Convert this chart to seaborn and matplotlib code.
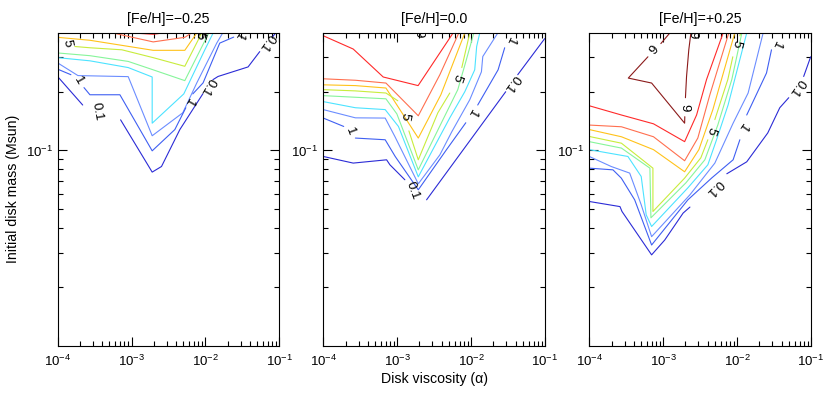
"""
Disk mass vs viscosity contours for three metallicities
"""
import matplotlib
matplotlib.use('Agg')
import matplotlib.pyplot as plt
import matplotlib.ticker as mticker
import seaborn as sns

# contour levels and colours
levels = [0.1, 1, 2, 3, 4, 5, 6, 7, 8, 9]
level_colors = ['#2b2bd6', '#3f5ff2', '#6b8dff', '#4ce3ff', '#86f59a',
                '#c8ec3c', '#ffc21a', '#ff6f4f', '#ff2a2a', '#8b1a1a']
color_of = dict(zip(levels, level_colors))

titles = ['[Fe/H]=\u22120.25', '[Fe/H]=0.0', '[Fe/H]=+0.25']

# contour vertices: level -> list of (alpha, Mdisk) segments
feh_m025 = {
    8: [([1.04e-3, 1.96e-3, 2.67e-3], [0.40, 0.394, 0.40])],
    7: [([5.6e-4, 1.96e-3, 5.25e-3, 6.47e-3], [0.40, 0.360, 0.380, 0.40])],
    6: [([1e-4, 2.73e-4, 1.96e-3, 5.25e-3, 7.63e-3], [0.380, 0.367, 0.326, 0.326, 0.40])],
    5: [([1.71e-4, 2.73e-4, 7.39e-4, 1.96e-3, 5.25e-3, 8.91e-3],
         [0.341, 0.336, 0.328, 0.299, 0.270, 0.40])],
    4: [([1e-4, 2.73e-4, 9.0e-4, 1.96e-3, 5.25e-3, 1.11e-2],
         [0.316, 0.306, 0.286, 0.259, 0.228, 0.40])],
    3: [([1e-4, 2.73e-4, 9.0e-4, 1.9e-3, 1.9e-3, 5.09e-3, 9.8e-3, 1.27e-2],
         [0.299, 0.288, 0.266, 0.238, 0.138, 0.195, 0.328, 0.40])],
    2: [([1e-4, 1.88e-4, 9.0e-4, 1.9e-3, 4.93e-3, 7.63e-3, 1.42e-2, 1.71e-2],
         [0.281, 0.242, 0.239, 0.119, 0.156, 0.222, 0.355, 0.40])],
    1: [([1e-4, 1.51e-4], [0.261, 0.2445]),
        ([2.27e-4, 2.73e-4, 6.95e-4, 1.9e-3, 3.85e-3, 5.42e-3],
         [0.21, 0.193, 0.193, 0.0996, 0.128, 0.1656]),
        ([6.74e-3, 9.28e-3, 1.56e-2, 2.41e-2], [0.195, 0.222, 0.355, 0.381])],
    0.1: [([1e-4, 2.18e-4], [0.239, 0.171]),
          ([7.1e-4, 1.9e-3, 2.54e-3, 4.5e-3, 9.2e-3], [0.1436, 0.0775, 0.0828, 0.128, 0.195]),
          ([1.26e-2, 1.48e-2, 3.77e-2, 5.42e-2], [0.2305, 0.2395, 0.268, 0.321]),
          ([8.12e-2, 8.91e-2], [0.383, 0.40])],
}
feh_m025_labels = [('5', 1.32e-4, 0.355, -80), ('1', 1.88e-4, 0.228, -60),
                   ('0.1', 3.4e-4, 0.158, -80), ('1', 5.95e-3, 0.178, -120),
                   ('0.1', 1.07e-2, 0.212, -120), ('0.1', 6.74e-2, 0.357, -125),
                   ('1', 2.82e-2, 0.387, -120), ('5', 8.4e-3, 0.392, -100)]

feh_000 = {
    8: [([1e-4, 2.54e-4, 6.47e-4, 1.92e-3, 5.71e-3], [0.387, 0.331, 0.238, 0.215, 0.40])],
    7: [([1e-4, 2.72e-4, 7.04e-4, 1.93e-3, 3.78e-3, 6.82e-3],
         [0.233, 0.229, 0.2216, 0.1506, 0.2445, 0.40])],
    6: [([1e-4, 2.72e-4, 7.04e-4, 1.93e-3, 3.9e-3, 8.22e-3],
         [0.217, 0.215, 0.209, 0.1158, 0.193, 0.40])],
    5: [([1e-4, 2.72e-4, 7.04e-4, 1.02e-3], [0.205, 0.202, 0.197, 0.1798]),
        ([1.44e-3, 1.93e-3, 3.55e-3, 5.15e-3], [0.126, 0.0896, 0.156, 0.197]),
        ([7.49e-3, 9.6e-3], [0.266, 0.40])],
    4: [([1e-4, 2.72e-4, 7.04e-4, 9.9e-4, 1.93e-3, 4.02e-3, 6.61e-3, 8.48e-3, 1.09e-2],
         [0.191, 0.1874, 0.184, 0.154, 0.0796, 0.140, 0.205, 0.285, 0.40])],
    3: [([1e-4, 2.72e-4, 6.88e-4, 1.04e-3, 1.93e-3, 5.15e-3, 8.22e-3, 1.12e-2, 1.19e-2, 1.31e-2],
         [0.178, 0.1656, 0.162, 0.1328, 0.0733, 0.147, 0.2, 0.259, 0.341, 0.40])],
    2: [([1e-4, 2.72e-4, 6.88e-4, 9.3e-4, 1.93e-3, 3.78e-3, 5.48e-3, 9.6e-3, 1.38e-2, 1.44e-2, 2.3e-2],
         [0.162, 0.147, 0.1466, 0.118, 0.0675, 0.095, 0.1247, 0.182, 0.253, 0.303, 0.40])],
    1: [([1e-4, 1.89e-4], [0.1466, 0.1328]),
        ([2.72e-4, 6.88e-4, 9.4e-4, 1.93e-3, 4.65e-3, 8.48e-3],
         [0.1158, 0.1135, 0.0932, 0.0629, 0.101, 0.1387]),
        ([1.23e-2, 2.32e-2, 2.85e-2], [0.171, 0.259, 0.336])],
    0.1: [([1e-4, 2.54e-4, 7.19e-4, 7.97e-4, 1.27e-3], [0.0932, 0.0862, 0.0896, 0.0845, 0.0708]),
          ([2.5e-3, 2.94e-2], [0.0559, 0.2]),
          ([4.28e-2, 9.9e-2], [0.2445, 0.374])],
}
feh_000_labels = [('9', 1.92e-3, 0.395, -90), ('5', 1.27e-3, 0.1506, -100),
                  ('1', 2.3e-4, 0.1247, -70), ('1', 1.02e-2, 0.156, -120),
                  ('1', 3.33e-2, 0.365, -115), ('0.1', 3.52e-2, 0.2216, -126),
                  ('5', 6.41e-3, 0.236, -110), ('0.1', 1.63e-3, 0.0622, -70)]

feh_p025 = {
    9: [([1.23e-3, 9.3e-4], [0.40, 0.353]),
        ([6.21e-4, 3.37e-4, 6.97e-4, 1.95e-3, 1.96e-3], [0.302, 0.235, 0.2216, 0.138, 0.149]),
        ([2.0e-3, 2.07e-3, 2.22e-3, 2.37e-3], [0.1864, 0.2395, 0.328, 0.40])],
    8: [([1e-4, 2.72e-4, 7.39e-4, 1.95e-3, 2.83e-3, 3.86e-3, 6.47e-3],
         [0.1695, 0.152, 0.137, 0.111, 0.152, 0.231, 0.40])],
    7: [([1e-4, 2.72e-4, 7.39e-4, 1.95e-3, 2.94e-3, 4.28e-3, 7.72e-3],
         [0.135, 0.1323, 0.1176, 0.0886, 0.1158, 0.193, 0.40])],
    6: [([1e-4, 2.72e-4, 7.39e-4, 1.95e-3, 3.04e-3, 4.7e-3, 9.3e-3],
         [0.128, 0.1176, 0.101, 0.0778, 0.101, 0.162, 0.40])],
    5: [([1e-4, 2.72e-4, 7.26e-4, 7.26e-4, 1.95e-3, 3.23e-3, 4.02e-3],
         [0.118, 0.109, 0.0812, 0.0487, 0.0722, 0.0917, 0.1135]),
        ([5.0e-3, 7.49e-3, 8.75e-3], [0.144, 0.231, 0.302]),
        ([1.09e-2, 1.12e-2], [0.387, 0.40])],
    4: [([1e-4, 2.72e-4, 6.61e-4, 6.82e-4, 2.03e-3, 3.66e-3, 5.48e-3, 8.48e-3, 1.16e-2],
         [0.111, 0.1029, 0.0812, 0.0452, 0.0683, 0.0896, 0.135, 0.231, 0.40])],
    3: [([1e-4, 3.33e-4, 5.04e-4, 5.89e-4, 6.97e-4, 2.16e-3, 4.02e-3, 5.27e-3, 7.55e-3, 1.35e-2],
         [0.101, 0.0932, 0.0736, 0.0468, 0.0408, 0.0644, 0.0845, 0.1135, 0.171, 0.40])],
    2: [([1e-4, 1.98e-4, 3.52e-4, 5.04e-4, 6.97e-4, 2.3e-3, 5.0e-3, 8.83e-3, 1.41e-2, 2.25e-2],
         [0.0932, 0.0828, 0.0766, 0.0527, 0.0362, 0.0593, 0.0862, 0.138, 0.197, 0.40])],
    1: [([1e-4, 2.09e-4, 2.71e-4, 4.11e-4, 6.97e-4, 2.16e-3, 4.55e-3, 8.83e-3, 1.09e-2],
         [0.0812, 0.0796, 0.0722, 0.0559, 0.0328, 0.0559, 0.0724, 0.0896, 0.1135]),
        ([1.35e-2, 2.5e-2, 2.92e-2], [0.152, 0.2494, 0.328])],
    0.1: [([1e-4, 2.6e-4, 2.77e-4, 6.97e-4, 1.05e-3, 1.86e-3, 2.3e-3],
           [0.0548, 0.0516, 0.0487, 0.0292, 0.0348, 0.0478, 0.0513]),
          ([7.26e-3, 1.35e-2, 2.6e-2, 3.78e-2, 5.0e-2], [0.076, 0.0875, 0.123, 0.1656, 0.1864]),
          ([7.96e-2, 9.9e-2], [0.2395, 0.302])],
}
feh_p025_labels = [('9', 7.72e-4, 0.328, 50), ('9', 1.96e-3, 0.1656, -90),
                   ('9', 2.52e-3, 0.392, -90), ('5', 4.41e-3, 0.126, -110),
                   ('5', 9.9e-3, 0.353, -105), ('1', 1.19e-2, 0.1323, -125),
                   ('1', 3.33e-2, 0.348, -115), ('0.1', 4.84e-3, 0.0644, -135),
                   ('0.1', 6.41e-2, 0.21, -125)]

y_minor = [0.02, 0.03, 0.04, 0.05, 0.06, 0.07, 0.08, 0.09, 0.2, 0.3]

sns.set_style('ticks')
plt.rcParams['font.family'] = ['Liberation Sans', 'DejaVu Sans']
plt.rcParams.update({'axes.linewidth': 0.8, 'axes.edgecolor': 'black',
                     'text.color': 'black', 'axes.labelcolor': 'black',
                     'xtick.color': 'black', 'ytick.color': 'black'})

fig = plt.figure(figsize=(8.3, 3.94), dpi=100)
lefts = [0.0695, 0.3895, 0.71]
axes = [fig.add_axes([l, 0.1226, 0.2671, 0.7937]) for l in lefts]

panels = [(feh_m025, feh_m025_labels), (feh_000, feh_000_labels), (feh_p025, feh_p025_labels)]

for ax, (lines, labels), title in zip(axes, panels, titles):
    for lev, segs in lines.items():
        for xs, ys in segs:
            sns.lineplot(x=xs, y=ys, ax=ax, sort=False, estimator=None,
                         color=color_of[lev], linewidth=0.8)
    for txt, xa, ym, rot in labels:
        ax.text(xa, ym, txt, fontsize=9.5, rotation=rot, ha='center', va='center',
                rotation_mode='anchor', clip_on=True, color='black')

    ax.set_xscale('log')
    ax.set_yscale('log')
    ax.set_xlim(1e-4, 1e-1)
    ax.set_ylim(0.01, 0.4)
    ax.yaxis.set_major_locator(mticker.FixedLocator([0.1]))
    ax.yaxis.set_minor_locator(mticker.FixedLocator(y_minor))
    ax.yaxis.set_minor_formatter(mticker.NullFormatter())
    ax.tick_params(which='both', direction='in', top=True, right=True,
                   labelsize=9.5, width=0.8, colors='black')
    ax.tick_params(which='major', length=6.5)
    ax.tick_params(which='minor', length=3.5)
    ax.tick_params(axis='x', which='major', pad=6)
    ax.set_title(title, fontsize=10.2, pad=7, color='black')
    ax.set_xlabel('')
    ax.set_ylabel('')

axes[0].set_ylabel('Initial disk mass (Msun)', fontsize=10.2)
axes[1].set_xlabel('Disk viscosity (\u03b1)', fontsize=10.2, labelpad=2)

plt.savefig('out.png', dpi=100)
plt.close()
